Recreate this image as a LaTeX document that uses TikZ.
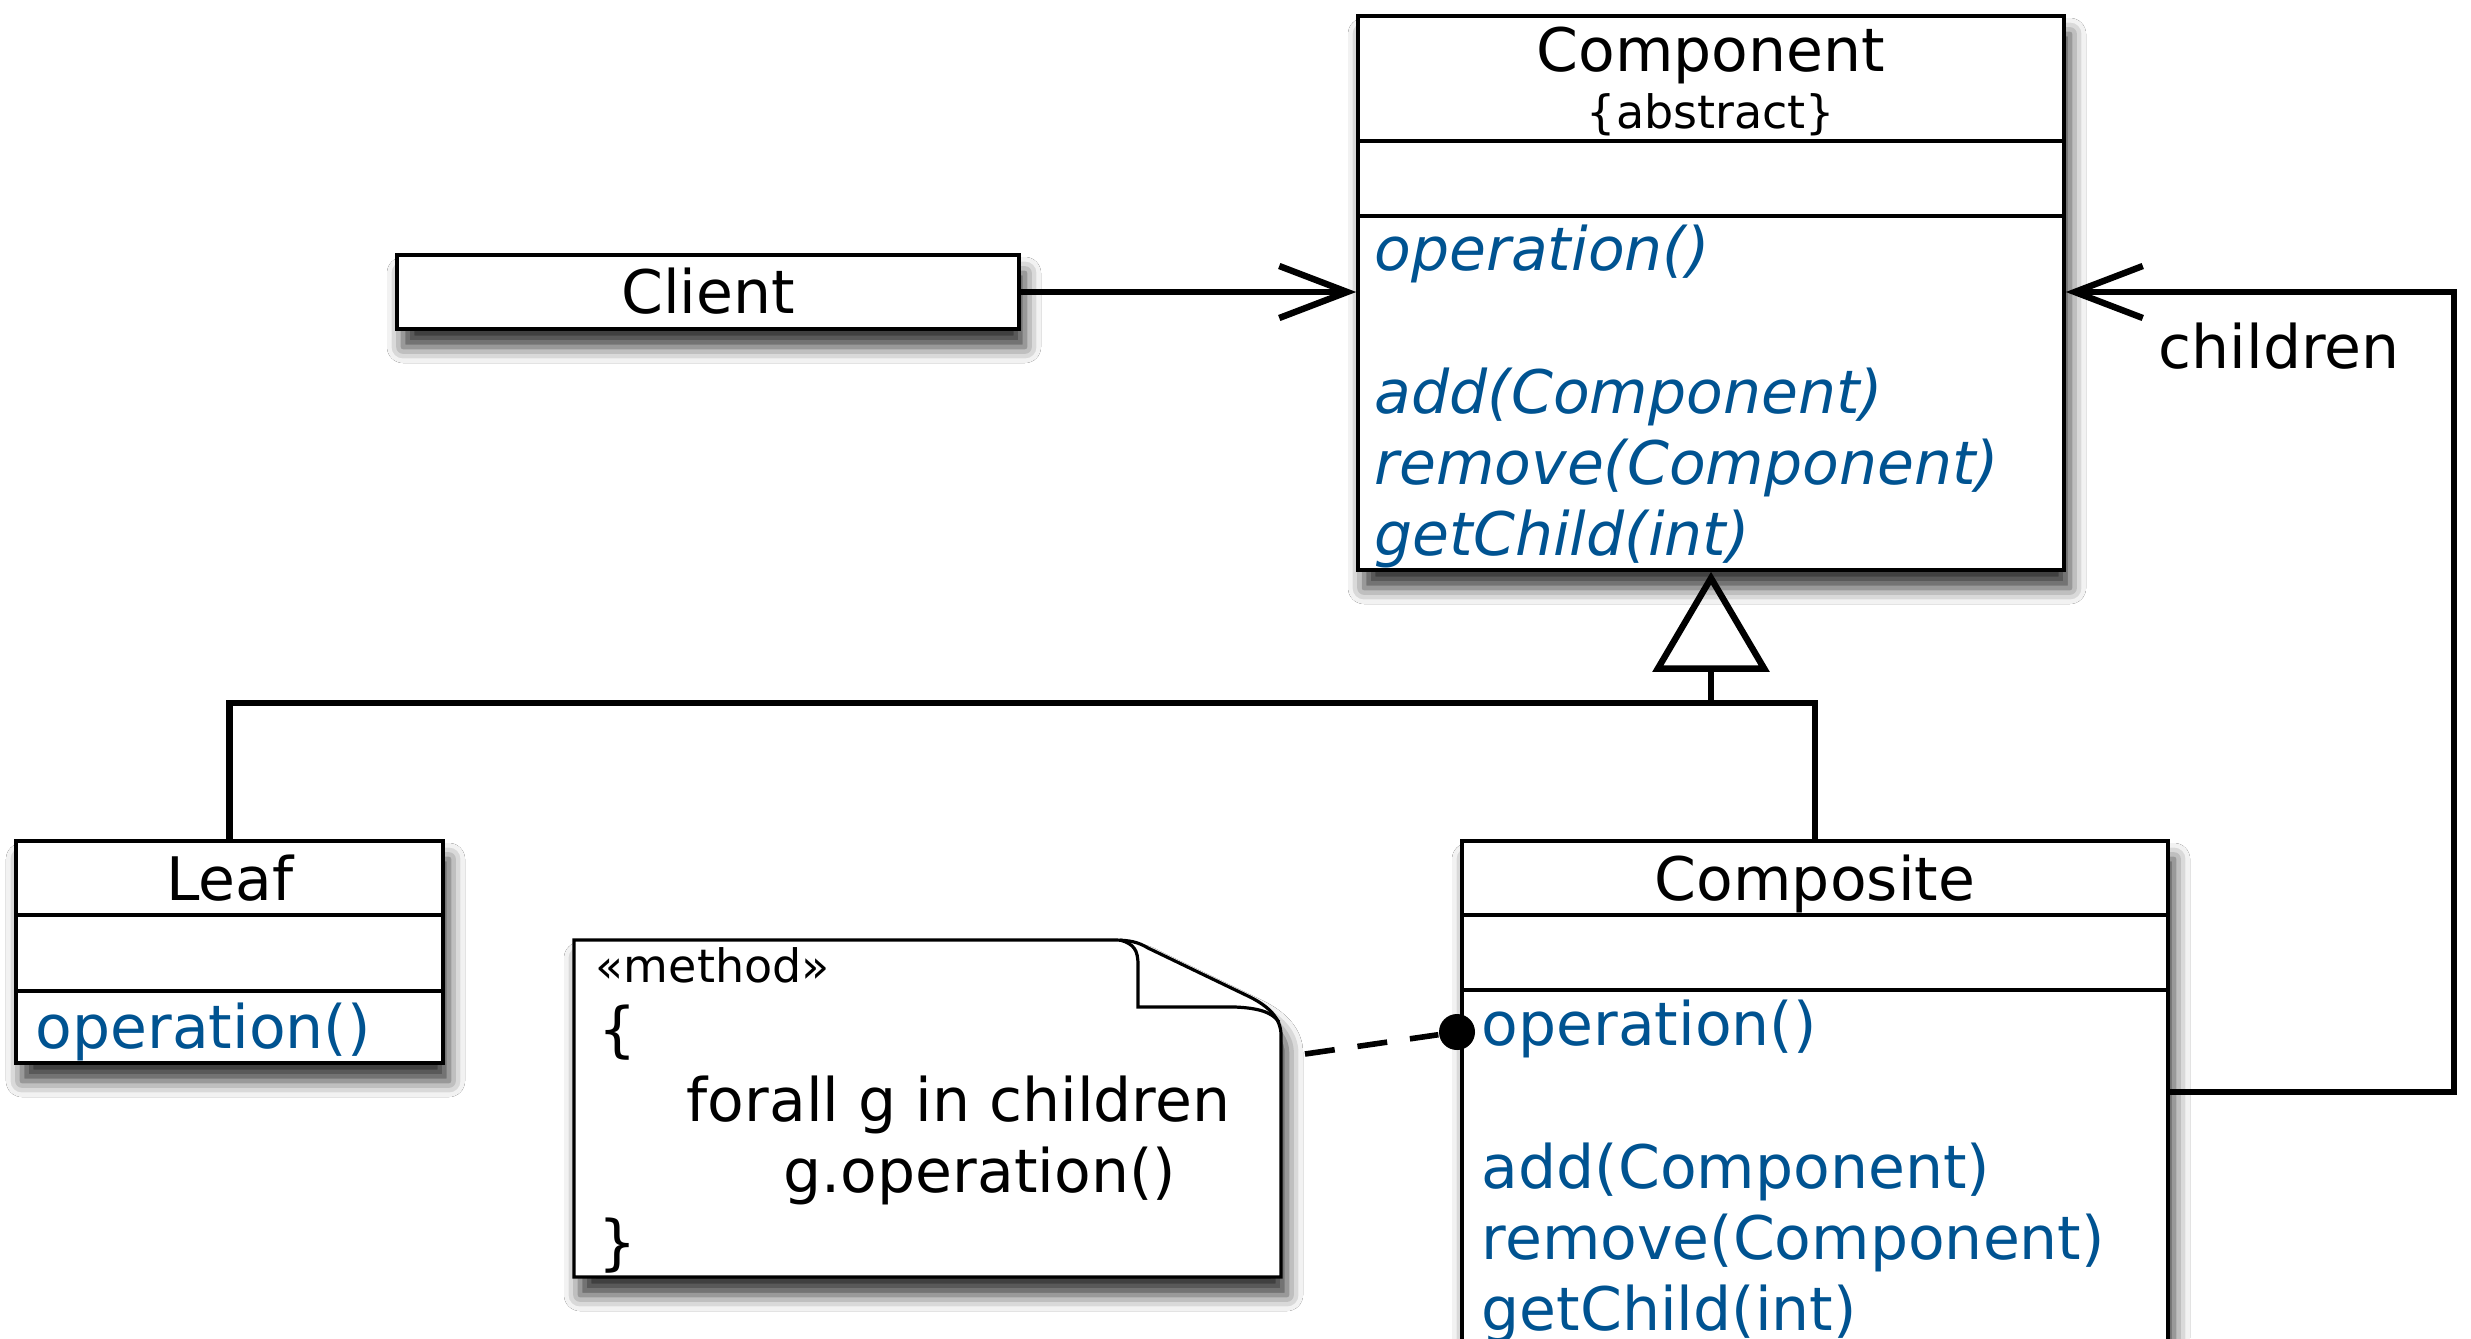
\documentclass[tikz,border=0pt]{standalone}
\usepackage{fontspec}
\setmainfont{DejaVu Sans}
\usetikzlibrary{arrows.meta,fit,shadows.blur}
\definecolor{opblue}{RGB}{0,83,145}
\tikzset{
  umlbox/.style={draw=black, line width=0.9pt, fill=white, inner sep=0pt,
    blur shadow={shadow xshift=1.5pt, shadow yshift=-4.5pt, shadow blur radius=4pt, shadow opacity=80}},
  notebox/.style={draw=black, line width=0.8pt, fill=white,
    blur shadow={shadow xshift=1.5pt, shadow yshift=-4.5pt, shadow blur radius=4pt, shadow opacity=80}},
  divider/.style={line width=0.9pt},
  conn/.style={line width=1.6pt, line join=miter},
  ttl/.style={font=\fontsize{15}{18}\selectfont, anchor=base, inner sep=0pt},
  smalltxt/.style={font=\fontsize{11.5}{14}\selectfont, anchor=base, inner sep=0pt},
  methtxt/.style={font=\fontsize{15}{18}\selectfont, text=opblue, anchor=base west, inner sep=0pt},
  amethtxt/.style={font=\fontsize{15}{18}\selectfont\itshape, text=opblue, anchor=base west, inner sep=0pt},
  plaintxt/.style={font=\fontsize{15}{18}\selectfont, anchor=base west, inner sep=0pt},
  barbarrow/.style={-{Straight Barb[length=17pt,width=13pt]}},
}
\begin{document}
\begin{tikzpicture}[x=0.25pt,y=-0.25pt]
\useasboundingbox (0,0) rectangle (2471,1338);
\fill[white] (0,0) rectangle (2471,1338);
\clip (0,0) rectangle (2471,1338);

% Component
\node[umlbox, fit={(1358,16)(2064,570)}] (comp) {};
\draw[divider] (1358,141) -- (2064,141);
\draw[divider] (1358,216) -- (2064,216);
\node[ttl] (compname) at (1711,71) {Component};
\node[smalltxt] (compabs) at (1711,128) {\{abstract\}};
\node[amethtxt] (cop) at (1374,270) {operation()};
\node[amethtxt] (cadd) at (1374,413) {add(Component)};
\node[amethtxt] (crem) at (1374,484) {remove(Component)};
\node[amethtxt] (cget) at (1374,555) {getChild(int)};

% Client
\node[umlbox, fit={(397,255)(1019,329)}] (client) {};
\node[ttl] (clientname) at (708,313) {Client};

% Leaf
\node[umlbox, fit={(16,841)(443,1063)}] (leaf) {};
\draw[divider] (16,915) -- (443,915);
\draw[divider] (16,991) -- (443,991);
\node[ttl] (leafname) at (230,900) {Leaf};
\node[methtxt] (lop) at (35,1048) {operation()};

% Composite
\node[umlbox, fit={(1462,841)(2168,1420)}] (compo) {};
\draw[divider] (1462,915) -- (2168,915);
\draw[divider] (1462,990) -- (2168,990);
\node[ttl] (componame) at (1815,900) {Composite};
\node[methtxt] (pop) at (1481,1045) {operation()};
\node[methtxt] (padd) at (1481,1188) {add(Component)};
\node[methtxt] (prem) at (1481,1259) {remove(Component)};
\node[methtxt] (pget) at (1481,1330) {getChild(int)};

% Note
\node[inner sep=0pt, fit={(574,940)(1281,1277)}] (note) {};
\draw[notebox] (574,940) -- (1112,940) .. controls (1130,940) and (1138,942) .. (1148,948)
  -- (1250,997) .. controls (1268,1006) and (1281,1018) .. (1281,1035)
  -- (1281,1277) -- (574,1277) -- cycle;
\draw[line width=0.8pt] (1120,940) .. controls (1134,944) and (1138,950) .. (1138,965)
  -- (1138,1007) -- (1235,1007) .. controls (1258,1008) and (1272,1012) .. (1279,1022);
\node[smalltxt, anchor=base west] (nstereo) at (595,982) {«method»};
\node[plaintxt] (nob) at (598,1050) {\{};
\node[plaintxt] (nforall) at (686,1121) {forall g in children};
\node[plaintxt] (ngop) at (783,1192) {g.operation()};
\node[plaintxt] (ncb) at (598,1263) {\}};

% note anchor connector
\coordinate (nstart) at (1305,1054);
\node[circle, fill=black, inner sep=0pt, minimum size=9pt] (dot) at (1457,1032) {};
\draw[line width=1.4pt, dash pattern=on 7.5pt off 5.75pt] (nstart) -- (dot);

% Client -> Component
\draw[conn, barbarrow] (client.east) -- (client.east -| comp.west);

% Generalization tree
\coordinate (junc) at (1711,703);
\draw[conn] (leaf.north) |- (junc) -| (compo.north);
\draw[conn, -{Triangle[open, length=25pt, width=29pt]}] (junc) -- (comp.south);

% children association
\coordinate (cy) at (0,1092);
\coordinate (chs) at (compo.east |- cy);
\coordinate (rc) at (2454,292);
\draw[conn, barbarrow] (chs) -| (rc) -- (comp.east |- rc);
\node[plaintxt] (chlabel) at (2158,368) {children};
\end{tikzpicture}
\end{document}
